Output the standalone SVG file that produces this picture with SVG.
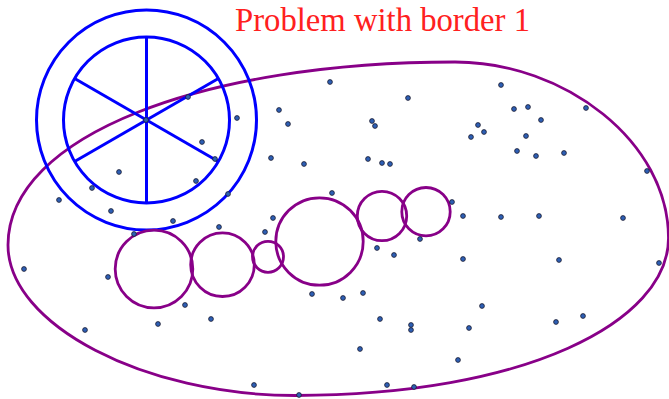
<svg xmlns="http://www.w3.org/2000/svg" width="669" height="399" viewBox="0 0 669 399">
<defs>
<style>
.blue{fill:none;stroke:#0000ff;stroke-width:3}
.purple{fill:none;stroke:#880088;stroke-width:2.8}
.dot{fill:#2d5fb5;stroke:#1a1a2e;stroke-width:0.8}
.title{font-family:"Liberation Serif","DejaVu Serif",serif;font-size:33px;fill:#ff2020}
</style>
</defs>
<rect width="669" height="399" fill="#ffffff"/>
<text class="title" x="235" y="31" textLength="295" lengthAdjust="spacingAndGlyphs">Problem with border 1</text>
<g id="border">
<path class="purple" d="M8,245 C8,135 205,62 455,62 C565,62 668.5,142 668.5,238 C668.5,322 525,395.5 295,395.5 C145,395.5 8,325 8,245 Z"/>
</g>
<g id="wheel">
<circle class="blue" cx="146.5" cy="120" r="110"/>
<circle class="blue" cx="146.5" cy="120" r="83"/>
<line class="blue" x1="146.5" y1="37" x2="146.5" y2="203"/>
<line class="blue" x1="74.6" y1="78.5" x2="218.4" y2="161.5"/>
<line class="blue" x1="74.6" y1="161.5" x2="218.4" y2="78.5"/>
</g>
<g id="circles">
<circle class="purple" cx="154" cy="269" r="38.8"/>
<circle class="purple" cx="222.5" cy="264.7" r="31.8"/>
<circle class="purple" cx="268" cy="256.8" r="15.5"/>
<circle class="purple" cx="319.5" cy="241.5" r="43.7"/>
<circle class="purple" cx="382" cy="216" r="24.7"/>
<circle class="purple" cx="426" cy="211.7" r="24.2"/>
</g>
<g id="points">
<circle class="dot" cx="188" cy="97" r="2.4"/>
<circle class="dot" cx="237" cy="118" r="2.4"/>
<circle class="dot" cx="146" cy="120" r="2.4"/>
<circle class="dot" cx="202" cy="142" r="2.4"/>
<circle class="dot" cx="215" cy="159" r="2.4"/>
<circle class="dot" cx="119" cy="172" r="2.4"/>
<circle class="dot" cx="196" cy="181" r="2.4"/>
<circle class="dot" cx="92" cy="188" r="2.4"/>
<circle class="dot" cx="59" cy="200" r="2.4"/>
<circle class="dot" cx="228" cy="194" r="2.4"/>
<circle class="dot" cx="111" cy="211" r="2.4"/>
<circle class="dot" cx="271" cy="158" r="2.4"/>
<circle class="dot" cx="279" cy="110" r="2.4"/>
<circle class="dot" cx="273" cy="218" r="2.4"/>
<circle class="dot" cx="173" cy="221" r="2.4"/>
<circle class="dot" cx="288" cy="124" r="2.4"/>
<circle class="dot" cx="330" cy="82" r="2.4"/>
<circle class="dot" cx="408" cy="98" r="2.4"/>
<circle class="dot" cx="372" cy="121" r="2.4"/>
<circle class="dot" cx="375" cy="126" r="2.4"/>
<circle class="dot" cx="304" cy="164" r="2.4"/>
<circle class="dot" cx="368" cy="159" r="2.4"/>
<circle class="dot" cx="382" cy="163" r="2.4"/>
<circle class="dot" cx="390" cy="164" r="2.4"/>
<circle class="dot" cx="332" cy="193" r="2.4"/>
<circle class="dot" cx="501" cy="85" r="2.4"/>
<circle class="dot" cx="514" cy="109" r="2.4"/>
<circle class="dot" cx="528" cy="107" r="2.4"/>
<circle class="dot" cx="478" cy="125" r="2.4"/>
<circle class="dot" cx="484" cy="132" r="2.4"/>
<circle class="dot" cx="471" cy="137" r="2.4"/>
<circle class="dot" cx="541" cy="120" r="2.4"/>
<circle class="dot" cx="526" cy="136" r="2.4"/>
<circle class="dot" cx="586" cy="108" r="2.4"/>
<circle class="dot" cx="517" cy="151" r="2.4"/>
<circle class="dot" cx="536" cy="156" r="2.4"/>
<circle class="dot" cx="564" cy="153" r="2.4"/>
<circle class="dot" cx="647" cy="171" r="2.4"/>
<circle class="dot" cx="452" cy="202" r="2.4"/>
<circle class="dot" cx="463" cy="216" r="2.4"/>
<circle class="dot" cx="501" cy="217" r="2.4"/>
<circle class="dot" cx="539" cy="216" r="2.4"/>
<circle class="dot" cx="623" cy="218" r="2.4"/>
<circle class="dot" cx="219" cy="227" r="2.4"/>
<circle class="dot" cx="134" cy="234" r="2.4"/>
<circle class="dot" cx="24" cy="269" r="2.4"/>
<circle class="dot" cx="108" cy="277" r="2.4"/>
<circle class="dot" cx="185" cy="305" r="2.4"/>
<circle class="dot" cx="211" cy="319" r="2.4"/>
<circle class="dot" cx="158" cy="324" r="2.4"/>
<circle class="dot" cx="85" cy="330" r="2.4"/>
<circle class="dot" cx="265" cy="232" r="2.4"/>
<circle class="dot" cx="312" cy="294" r="2.4"/>
<circle class="dot" cx="343" cy="298" r="2.4"/>
<circle class="dot" cx="363" cy="293" r="2.4"/>
<circle class="dot" cx="377" cy="248" r="2.4"/>
<circle class="dot" cx="394" cy="255" r="2.4"/>
<circle class="dot" cx="420" cy="239" r="2.4"/>
<circle class="dot" cx="380" cy="319" r="2.4"/>
<circle class="dot" cx="411" cy="325" r="2.4"/>
<circle class="dot" cx="411" cy="330" r="2.4"/>
<circle class="dot" cx="360" cy="349" r="2.4"/>
<circle class="dot" cx="254" cy="385" r="2.4"/>
<circle class="dot" cx="299" cy="395" r="2.4"/>
<circle class="dot" cx="387" cy="385" r="2.4"/>
<circle class="dot" cx="414" cy="387" r="2.4"/>
<circle class="dot" cx="463" cy="259" r="2.4"/>
<circle class="dot" cx="559" cy="260" r="2.4"/>
<circle class="dot" cx="659" cy="263" r="2.4"/>
<circle class="dot" cx="482" cy="306" r="2.4"/>
<circle class="dot" cx="583" cy="316" r="2.4"/>
<circle class="dot" cx="556" cy="322" r="2.4"/>
<circle class="dot" cx="469" cy="328" r="2.4"/>
<circle class="dot" cx="458" cy="360" r="2.4"/>
</g>
</svg>
